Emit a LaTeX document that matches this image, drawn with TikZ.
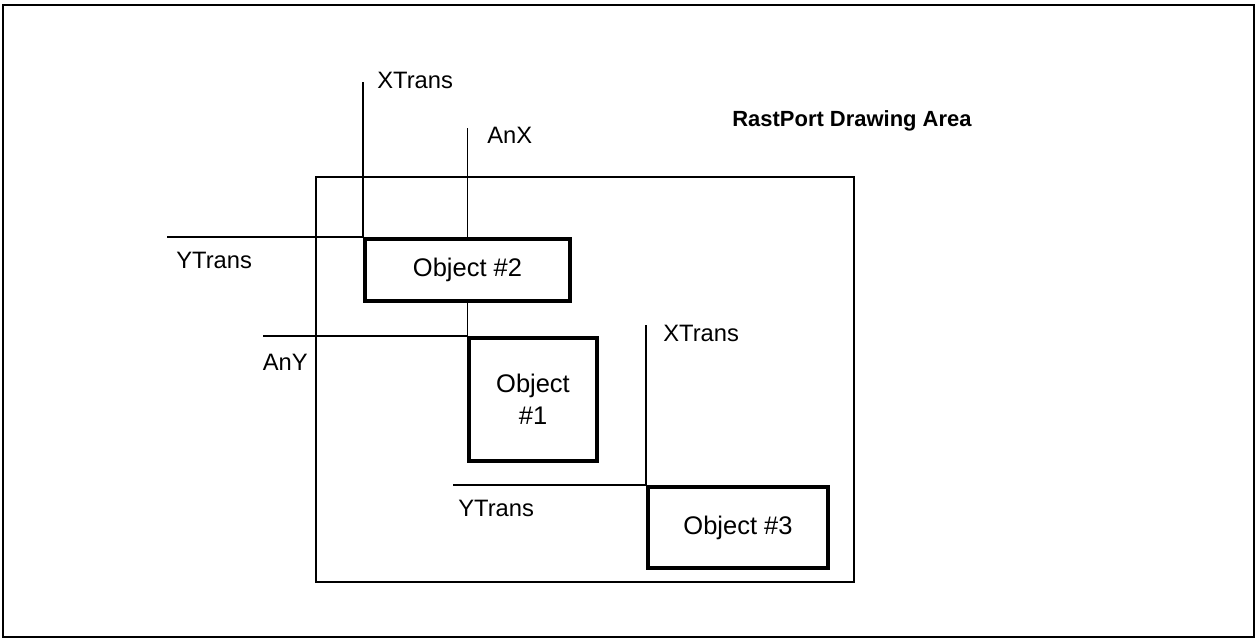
\documentclass[tikz,border=0pt]{standalone}
\usepackage{fontspec}
\setmainfont{Liberation Sans}

\tikzset{
  objbox/.style={draw, line width=2.2pt, align=center, inner sep=0pt,
    font=\fontsize{14.5}{18}\selectfont},
  reflabel/.style={inner sep=0pt, font=\fontsize{13.5}{16}\selectfont},
  refline/.style={line width=0.8pt},
}

\begin{document}
\begin{tikzpicture}[x=0.02cm, y=-0.02cm]
    \useasboundingbox (0,0) rectangle (1257,640);

    % Marco exterior
    \draw[line width=1.2pt] (3,5) rectangle (1254,637);

    % Area de dibujo del RastPort
    \draw[line width=1.3pt] (316,177) rectangle (854,582);
    \node[anchor=west, inner sep=0pt, font=\fontsize{12.5}{15}\selectfont\bfseries] (title) at (732,121) {RastPort Drawing Area};

    % Objetos
    \node[objbox, minimum width=4.1cm, minimum height=1.24cm] (obj2) at (467.5,270) {Object \#2};
    \node[objbox, minimum width=2.56cm, minimum height=2.46cm] (obj1) at (533,399.5) {Object\\\#1};
    \node[objbox, minimum width=3.6cm, minimum height=1.62cm] (obj3) at (738,527.5) {Object \#3};

    % Referencias del objeto 2
    \coordinate (xt2) at (363,82);
    \coordinate (yt2) at (167,239);
    \coordinate (anx) at (468,128);
    \draw[refline] (obj2.north west) -- (obj2.north west |- xt2);
    \draw[refline] (obj2.north west) -- (obj2.north west -| yt2);
    \draw[refline] (obj2.north) -- (obj2.north |- anx);
    \node[reflabel, anchor=west] (xtrans2) at (377,80) {XTrans};
    \node[reflabel, anchor=west] (ytrans2) at (176,260) {YTrans};
    \node[reflabel, anchor=west] (anxlabel) at (487,135) {AnX};

    % Referencias del objeto 1
    \coordinate (any) at (263,338);
    \draw[refline] (obj2.south) -- (obj2.south |- obj1.north west);
    \draw[refline] (obj1.north west) -- (obj1.north west -| any);
    \node[reflabel, anchor=east] (anylabel) at (308,362) {AnY};

    % Referencias del objeto 3
    \coordinate (xt3) at (648,325);
    \coordinate (yt3) at (453,487);
    \draw[refline] (obj3.north west) -- (obj3.north west |- xt3);
    \draw[refline] (obj3.north west) -- (obj3.north west -| yt3);
    \node[reflabel, anchor=west] (xtrans3) at (663,333) {XTrans};
    \node[reflabel, anchor=west] (ytrans3) at (458,508) {YTrans};

\end{tikzpicture}
\end{document}
